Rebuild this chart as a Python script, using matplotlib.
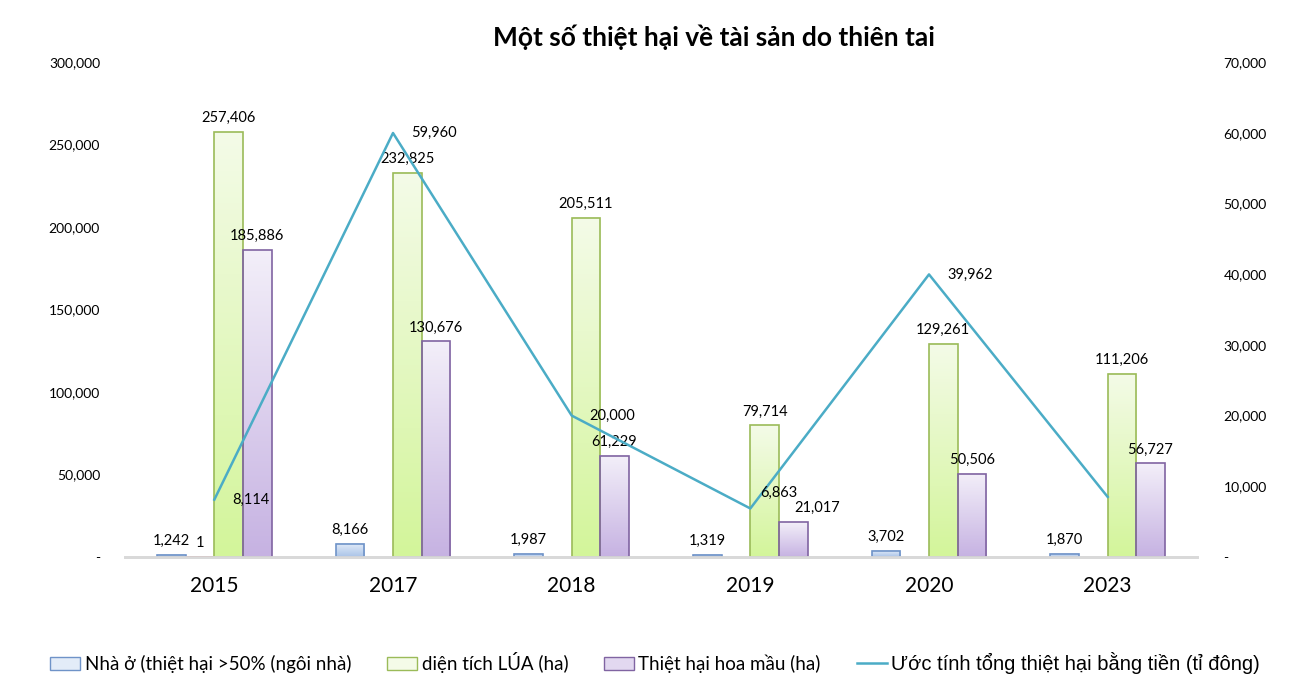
import numpy as np
import matplotlib.pyplot as plt
from matplotlib.colors import LinearSegmentedColormap
from matplotlib.patches import Patch
from matplotlib.lines import Line2D
from matplotlib.ticker import FuncFormatter

plt.rcParams['font.family'] = ['Lato', 'DejaVu Sans']

years = ['2015', '2017', '2018', '2019', '2020', '2023']
nha_o = [1242, 8166, 1987, 1319, 3702, 1870]
other = [1, 0, 0, 0, 0, 0]
lua = [257406, 232825, 205511, 79714, 129261, 111206]
hoa_mau = [185886, 130676, 61229, 21017, 50506, 56727]
tien = [8114, 59960, 20000, 6863, 39962, 8500]
tien_labels = ['8,114', '59,960', '20,000', '6,863', '39,962', '']

legend_names = ['Nhà ở (thiệt hại >50% (ngôi nhà)', 'diện tích LÚA (ha)',
                'Thiệt hại hoa mầu (ha)', 'Ước tính tổng thiệt hại bằng tiền (tỉ đông)']

# (top colour, bottom colour, edge)
styles = [('#E3ECF8', '#A9C3E8', '#6F93C8'),
          ('#EEEEEE', '#C0504D', '#C0504D'),
          ('#F4FBE8', '#D3F59A', '#9BBB59'),
          ('#F3EFF9', '#C6B2E2', '#8064A2')]
line_color = '#4BACC6'

# label nudges in points (x shift of 21,017 bar label; line label offsets)
bar_label_dx = {(3, 3): 17}
line_label_off = [(13, 0), (13, 0), (13, 0), (7, 11), (13, 0), (13, 0)]

fig = plt.figure(figsize=(13.03, 6.92), dpi=100)
ax = fig.add_axes([125 / 1303, 135 / 692, 1072 / 1303, 495 / 692])
ax2 = ax.twinx()

x = np.arange(len(years))
w = 0.16
series = [nha_o, other, lua, hoa_mau]
grad = np.linspace(0, 1, 256).reshape(-1, 1)

for k, vals in enumerate(series):
    top, bot, edge = styles[k]
    cmap = LinearSegmentedColormap.from_list('g%d' % k, [bot, top])
    offs = (k - 1.5) * w
    for i, v in enumerate(vals):
        if k == 1 and v == 0:
            continue
        x0 = x[i] + offs - w / 2
        if v > 50:
            ax.imshow(grad, extent=[x0, x0 + w, 0, v], origin='lower', cmap=cmap,
                      aspect='auto', zorder=2)
        ax.bar(x[i] + offs, v, w, fill=False, edgecolor=edge, linewidth=1.2, zorder=3)
        dx = bar_label_dx.get((k, i), 0)
        ax.annotate(f'{v:,}', (x[i] + offs, v), xytext=(dx, 5), textcoords='offset points',
                    ha='center', va='bottom', fontsize=10.5, color='black', zorder=5)

ax.set_xlim(-0.5, len(years) - 0.5)
ax.set_ylim(0, 300000)
ax.set_xticks(x)
ax.set_xticklabels(years, fontsize=15)
ax.set_yticks(np.arange(0, 300001, 50000))
fmt = FuncFormatter(lambda v, p: '-' if v == 0 else f'{int(v):,}')
ax.yaxis.set_major_formatter(fmt)
ax.tick_params(axis='y', length=0, pad=18, labelsize=10)
ax.tick_params(axis='x', length=0, pad=14)

ax2.plot(x, tien, color=line_color, linewidth=1.8, zorder=4)
for i, v in enumerate(tien):
    if tien_labels[i]:
        ax2.annotate(tien_labels[i], (x[i], v), xytext=line_label_off[i],
                     textcoords='offset points', ha='left', va='center',
                     fontsize=10.5, zorder=5)
ax2.set_ylim(0, 70000)
ax2.set_yticks(np.arange(0, 70001, 10000))
ax2.yaxis.set_major_formatter(fmt)
ax2.tick_params(axis='y', length=0, pad=19, labelsize=10)

for a in (ax, ax2):
    for s in ['top', 'left', 'right']:
        a.spines[s].set_visible(False)
    a.spines['bottom'].set_color('#D9D9D9')
    a.spines['bottom'].set_linewidth(2)
ax.set_zorder(ax2.get_zorder() - 1)
ax.patch.set_visible(False)

fig.text(714 / 1303, 1 - 37 / 692, 'Một số thiệt hại về tài sản do thiên tai',
         ha='center', va='center', fontsize=19, fontweight='bold')

handles = [Patch(facecolor=styles[0][0], edgecolor=styles[0][2]),
           Patch(facecolor=styles[2][0], edgecolor=styles[2][2]),
           Patch(facecolor='#E2D8F0', edgecolor=styles[3][2]),
           Line2D([0], [0], color=line_color, linewidth=1.8)]
leg = fig.legend(handles, legend_names, loc='center',
                 bbox_to_anchor=(655 / 1303, 1 - 663 / 692), ncol=4, frameon=False,
                 prop={'family': ['Lato', 'DejaVu Sans'], 'size': 13.5},
                 handlelength=1.6, handleheight=0.7, handletextpad=0.25, columnspacing=1.9)
last = leg.get_texts()[-1]
last.set_fontfamily(['Liberation Sans', 'DejaVu Sans'])
last.set_fontsize(14.5)

fig.savefig('out.png', dpi=100)
